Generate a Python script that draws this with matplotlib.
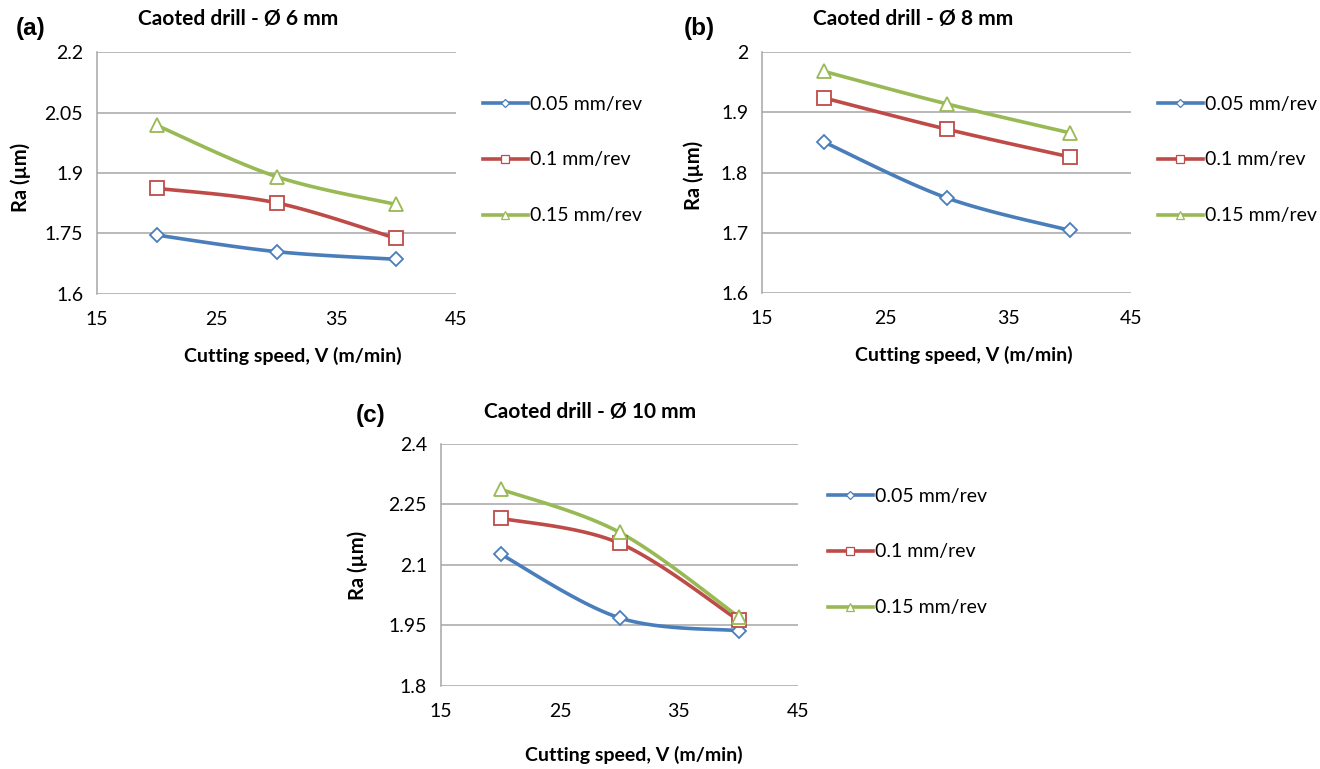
import numpy as np
import matplotlib
matplotlib.use("Agg")
import matplotlib.pyplot as plt

plt.rcParams['font.family'] = ['Lato', 'DejaVu Sans']

# cutting speed (m/min)
speed = [20, 30, 40]
feeds = ['0.05 mm/rev', '0.1 mm/rev', '0.15 mm/rev']

# Ra values, one list per feed
ra_6mm_005 = [1.746, 1.705, 1.686]
ra_6mm_010 = [1.862, 1.826, 1.738]
ra_6mm_015 = [2.018, 1.891, 1.822]

ra_8mm_005 = [1.851, 1.758, 1.704]
ra_8mm_010 = [1.924, 1.872, 1.826]
ra_8mm_015 = [1.968, 1.914, 1.866]

ra_10mm_005 = [2.127, 1.969, 1.937]
ra_10mm_010 = [2.216, 2.154, 1.963]
ra_10mm_015 = [2.288, 2.181, 1.972]

yticks_6 = [1.6, 1.75, 1.9, 2.05, 2.2]
yticks_8 = [1.6, 1.7, 1.8, 1.9, 2.0]
yticks_10 = [1.8, 1.95, 2.1, 2.25, 2.4]
xticks = [15, 25, 35, 45]

colors = ['#4A7EBB', '#BE4B48', '#98B954']
markers = ['D', 's', '^']
msizes = [7.5, 10, 10.5]


def smooth(x, y, n=40):
    # excel style smoothed line: bezier segments with catmull-rom control points
    x = np.asarray(x, float)
    y = np.asarray(y, float)
    px = np.concatenate([[x[0]], x, [x[-1]]])
    py = np.concatenate([[y[0]], y, [y[-1]]])
    xs, ys = [], []
    t = np.linspace(0, 1, n)
    for i in range(1, len(px) - 2):
        p0 = np.array([px[i], py[i]])
        p3 = np.array([px[i + 1], py[i + 1]])
        p1 = p0 + (np.array([px[i + 1], py[i + 1]]) - np.array([px[i - 1], py[i - 1]])) / 6
        p2 = p3 - (np.array([px[i + 2], py[i + 2]]) - np.array([px[i], py[i]])) / 6
        b = ((1 - t) ** 3)[:, None] * p0 + (3 * (1 - t) ** 2 * t)[:, None] * p1 \
            + (3 * (1 - t) * t ** 2)[:, None] * p2 + (t ** 3)[:, None] * p3
        xs.extend(b[:, 0])
        ys.extend(b[:, 1])
    return xs, ys


def draw_panel(ax, series, yticks, legend_pos):
    handles = []
    for vals, c, m, ms, lab in zip(series, colors, markers, msizes, feeds):
        sx, sy = smooth(speed, vals)
        ax.plot(sx, sy, color=c, lw=2.6, zorder=3)
        ax.plot(speed, vals, ls='none', marker=m, ms=ms, mfc='white',
                mec=c, mew=1.3, zorder=4)
        h, = ax.plot([], [], color=c, lw=2.6, marker=m, ms=ms * 0.6,
                     mfc='white', mec=c, mew=0.9, label=lab)
        handles.append(h)
    ax.set_xlim(15, 45)
    ax.set_ylim(yticks[0], yticks[-1])
    ax.set_xticks(xticks)
    ax.set_yticks(yticks)
    ax.set_yticklabels([f"{v:g}" for v in yticks])
    ax.tick_params(length=0, labelsize=14, pad=10)
    ax.tick_params(axis='x', pad=12)
    ax.grid(axis='y', color='#A6A6A6', lw=1.1)
    ax.set_axisbelow(True)
    for s in ['top', 'right', 'bottom']:
        ax.spines[s].set_visible(False)
    ax.spines['left'].set_color('#A6A6A6')
    ax.spines['left'].set_linewidth(1.1)
    ax.legend(handles=handles, loc='center left', bbox_to_anchor=legend_pos,
              bbox_transform=fig.transFigure, frameon=False, fontsize=14,
              handlelength=2.3, handletextpad=0.1, labelspacing=2.0,
              borderaxespad=0, borderpad=0)


W, H = 1320, 769
fig = plt.figure(figsize=(W / 100, H / 100), dpi=100)


def px_axes(x0, y0, x1, y1):
    return fig.add_axes([x0 / W, 1 - y1 / H, (x1 - x0) / W, (y1 - y0) / H])


ax_a = px_axes(97, 52, 456, 294)
ax_b = px_axes(762, 52, 1131, 293)
ax_c = px_axes(441, 444, 798, 686)

draw_panel(ax_a, [ra_6mm_005, ra_6mm_010, ra_6mm_015], yticks_6, (483 / W, 1 - 160 / H))
draw_panel(ax_b, [ra_8mm_005, ra_8mm_010, ra_8mm_015], yticks_8, (1158 / W, 1 - 160 / H))
draw_panel(ax_c, [ra_10mm_005, ra_10mm_010, ra_10mm_015], yticks_10, (828 / W, 1 - 552 / H))


def ftext(x, y, s, **kw):
    fig.text(x / W, 1 - y / H, s, ha='center', va='center', **kw)


# panel letters, titles and axis labels
letter_font = ['Liberation Sans', 'DejaVu Sans']
ftext(31, 28, '(a)', fontsize=17.5, fontweight='bold', family=letter_font)
ftext(699, 28, '(b)', fontsize=17.5, fontweight='bold', family=letter_font)
ftext(371, 415, '(c)', fontsize=17.5, fontweight='bold', family=letter_font)

ftext(238, 19, 'Caoted drill - Ø 6 mm', fontsize=15, fontweight='bold')
ftext(913, 19, 'Caoted drill - Ø 8 mm', fontsize=15, fontweight='bold')
ftext(590, 412, 'Caoted drill - Ø 10 mm', fontsize=15, fontweight='bold')

ftext(293, 356, 'Cutting speed, V (m/min)', fontsize=14, fontweight='bold')
ftext(964, 355, 'Cutting speed, V (m/min)', fontsize=14, fontweight='bold')
ftext(634, 755, 'Cutting speed, V (m/min)', fontsize=14, fontweight='bold')

ftext(21, 177, 'Ra (µm)', fontsize=14.5, fontweight='bold', rotation=90)
ftext(694, 175, 'Ra (µm)', fontsize=14.5, fontweight='bold', rotation=90)
ftext(358, 565, 'Ra (µm)', fontsize=14.5, fontweight='bold', rotation=90)

fig.savefig('out.png', dpi=100)
